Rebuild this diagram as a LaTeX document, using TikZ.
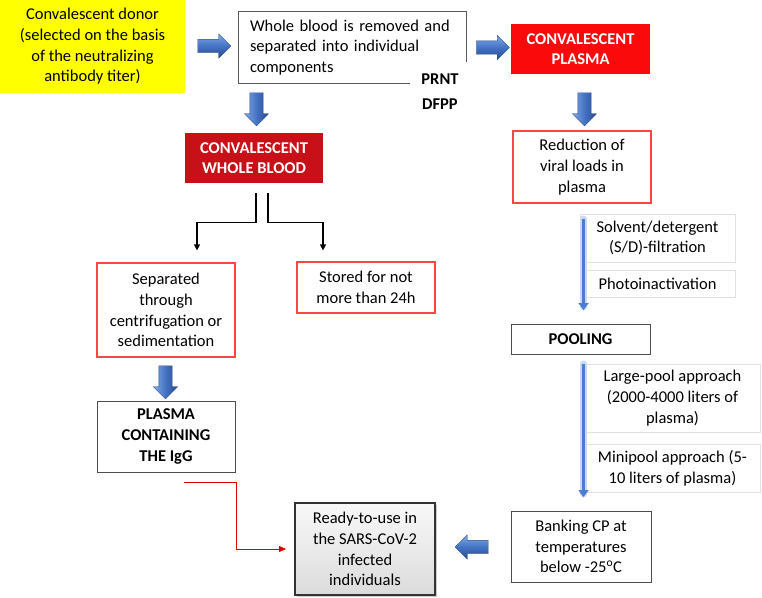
\documentclass[tikz,border=0pt]{standalone}
\usepackage{fontspec}
\setmainfont{Carlito}
\usetikzlibrary{shapes.arrows,arrows.meta,shadows,calc}
\definecolor{ayellow}{RGB}{255,255,0}
\definecolor{ared}{RGB}{250,10,10}
\definecolor{adred}{RGB}{200,16,24}
\definecolor{pinkline}{RGB}{255,70,70}
\definecolor{lgray}{RGB}{225,225,225}
\definecolor{bdark}{RGB}{40,75,140}
\definecolor{blight}{RGB}{130,170,230}
\definecolor{bmid}{RGB}{68,114,196}
\definecolor{thinblue}{RGB}{75,125,210}
\definecolor{glowblue}{RGB}{200,218,245}
\tikzset{
  txt/.style={font=\fontsize{16.5}{20.7}\selectfont, align=center, inner sep=2pt},
  bld/.style={font=\fontsize{16.5}{20.7}\selectfont\bfseries},
  boxx/.style={txt, rectangle, minimum width=#1},
  pinkbox/.style={draw=pinkline, line width=1.2pt},
  graybox/.style={draw=lgray, line width=1pt},
  darkbox/.style={draw=gray!60!black, line width=1pt},
  rarrow/.style={single arrow, single arrow head extend=5.5pt, minimum height=33pt, inner sep=6.5pt, shading angle=0, top color=blight, bottom color=bdark, middle color=bmid, draw=bdark, line width=0.3pt},
  darrow/.style={rarrow, shape border rotate=270, left color=blight, right color=bdark, middle color=bmid},
  larrow/.style={rarrow, shape border rotate=180},
  thin/.style={draw=thinblue, line width=3.5pt, -{Triangle[length=7pt,width=10pt]}},
  glow/.style={draw=glowblue, line width=7pt, line cap=round},
  blk/.style={draw=black, line width=1.2pt, -{Triangle[length=6pt,width=6pt]}},
}
\begin{document}
\begin{tikzpicture}[x=1pt,y=-1pt]
\useasboundingbox (0,0) rectangle (762,597);
% top row
\node[boxx=185pt, minimum height=93pt, fill=ayellow] (donor) at (92.5,46.5) {Convalescent donor\\(selected on the basis\\of the neutralizing\\antibody titer)};
\node[rarrow] (a1) at (211,46) {};
\node[txt, rectangle, minimum width=227pt, minimum height=71pt, text width=205pt, align=left, anchor=center] (whole) at (352.5,47.5) {Whole blood is removed and\\separated into individual\\components};
\draw[line width=1pt, gray!70!black] ([xshift=-56pt]whole.south east) -- (whole.south west) -- (whole.north west) -- (whole.north east) -- ([yshift=21pt]whole.south east);
\node[txt, bld] (prnt) at (440,79) {PRNT};
\node[txt, bld] (dfpp) at (440,104) {DFPP};
\node[rarrow] (a2) at (489.5,47.5) {};
\node[boxx=139pt, minimum height=50pt, fill=ared, text=white, bld] (cp) at (580.5,49) {CONVALESCENT\\PLASMA};
% left branch
\node[darrow] (a3) at (256.5,106) {};
\node[boxx=138pt, minimum height=50pt, fill=adred, text=white, bld] (wb) at (254,158) {CONVALESCENT\\WHOLE BLOOD};
\node[boxx=138pt, minimum height=94pt, pinkbox] (sep) at (166,310) {Separated\\through\\centrifugation or\\sedimentation};
\node[boxx=138pt, minimum height=51pt, pinkbox] (stored) at (366,287.5) {Stored for not\\more than 24h};
\draw[blk] ([xshift=2pt]wb.south) ++(0,10) -- ++(0,29) -| ([yshift=12pt]sep.north -| 197,0);
\draw[blk] ([xshift=14pt]wb.south) ++(0,10) -- ++(0,29) -| ([yshift=11pt]stored.north -| 323,0);
\node[darrow] (a4) at (165.5,379) {};
\node[boxx=138pt, minimum height=71pt, darkbox, bld] (igg) at (166,436.5) {PLASMA\\CONTAINING\\THE IgG};
% right branch
\node[darrow] (a5) at (584.5,106) {};
\node[boxx=138pt, minimum height=72pt, pinkbox] (red) at (582,167) {Reduction of\\viral loads in\\plasma};
\node[boxx=155pt, minimum height=48pt, graybox] (solv) at (657.5,238) {Solvent/detergent\\(S/D)-filtration};
\node[boxx=155pt, minimum height=27pt, graybox] (photo) at (657.5,283.5) {Photoinactivation};
\coordinate (t1) at (583.5,219);
\coordinate (t2) at (583.5,310);
\draw[glow] (t1) -- ([yshift=3pt]t2);
\draw[thin] (t1) -- (t2);
\node[boxx=139pt, minimum height=30pt, darkbox, bld] (pool) at (580.5,339) {POOLING};
\node[boxx=175pt, minimum height=68pt, graybox] (large) at (672.5,398) {Large-pool approach\\(2000-4000 liters of\\plasma)};
\node[boxx=175pt, minimum height=48pt, graybox] (mini) at (672.5,468) {Minipool approach (5-\\10 liters of plasma)};
\coordinate (t3) at (583.5,364);
\coordinate (t4) at (583.5,497);
\draw[glow] (t3) -- ([yshift=3pt]t4);
\draw[thin] (t3) -- (t4);
\node[boxx=140pt, minimum height=71pt, darkbox] (bank) at (581,546.5) {Banking CP at\\temperatures\\below -25\textsuperscript{o}C};
\node[larrow] (a6) at (475,547) {};
\node[boxx=140pt, minimum height=92pt, draw=gray!40!black, line width=1.8pt, top color=gray!5, bottom color=gray!28, drop shadow={shadow xshift=1.5pt, shadow yshift=-1.5pt, opacity=0.4}] (ready) at (365,549) {Ready-to-use in\\the SARS-CoV-2\\infected\\individuals};
\coordinate (r0) at (184,482);
\draw[draw=red!85!black, line width=0.7pt, -{Triangle[length=7pt,width=6pt]}] (r0) -- (236,482) |- ([xshift=-8pt]ready.west);
\end{tikzpicture}
\end{document}
